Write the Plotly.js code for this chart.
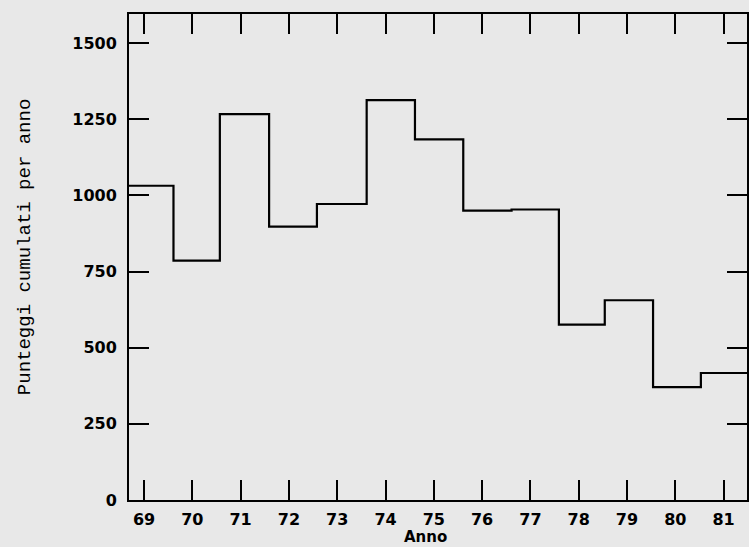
<!DOCTYPE html>
<html>
<head>
<meta charset="utf-8">
<script src="https://cdn.plot.ly/plotly-3.0.1.min.js"></script>
<style>html,body{margin:0;padding:0;background:#e8e8e8;}#chart{width:749px;height:547px;}</style>
</head>
<body>
<div id="chart"></div>
<script>
// Years (tick labels) and cumulative scores per year (step histogram)
const years = [69, 70, 71, 72, 73, 74, 75, 76, 77, 78, 79, 80, 81];
const yearLabels = ["69", "70", "71", "72", "73", "74", "75", "76", "77", "78", "79", "80", "81"];
// left edge of each yearly bin
const binStarts = [68.6, 69.61, 70.57, 71.59, 72.58, 73.61, 74.61, 75.61, 76.61, 77.59, 78.54, 79.54, 80.53];
const binEndLast = 81.6;
const scores = [1032, 786, 1267, 898, 972, 1313, 1184, 950, 954, 576, 656, 371, 417];
const yTicks = [0, 250, 500, 750, 1000, 1250, 1500];

const xs = binStarts.concat([binEndLast]);
const ys = scores.concat([scores[scores.length - 1]]);

const tickFont = {family: "DejaVu Sans", size: 16, weight: 700, color: "#000"};

const trace = {
  x: xs, y: ys, type: "scatter", mode: "lines",
  line: {shape: "hv", color: "#000", width: 2.2},
  hoverinfo: "skip", showlegend: false
};

const layout = {
  width: 749, height: 547,
  margin: {l: 129, r: 2, t: 14, b: 47},
  paper_bgcolor: "#e8e8e8", plot_bgcolor: "#e8e8e8",
  showlegend: false,
  xaxis: {
    range: [68.689, 81.485], tickmode: "array", tickvals: years, ticktext: yearLabels,
    ticks: "inside", ticklen: 20, tickwidth: 2, tickcolor: "#000",
    showline: true, linecolor: "#000", linewidth: 2, mirror: "allticks",
    showgrid: false, zeroline: false, tickfont: tickFont, ticklabelstandoff: 4
  },
  yaxis: {
    range: [0, 1596], tickmode: "array", tickvals: yTicks,
    ticks: "inside", ticklen: 20, tickwidth: 2, tickcolor: "#000",
    showline: true, linecolor: "#000", linewidth: 2, mirror: "allticks",
    showgrid: false, zeroline: false, tickfont: tickFont, ticklabelstandoff: 7
  },
  annotations: [
    {text: "Anno", xref: "paper", yref: "paper", x: (425 - 129) / 617.7, y: 0,
     yshift: -37, showarrow: false, xanchor: "center", yanchor: "middle",
     font: {family: "DejaVu Sans", size: 15, weight: 700, color: "#000"}},
    {text: "Punteggi cumulati per anno", xref: "paper", yref: "paper",
     x: 0, xshift: -104, y: (499.7 - 247) / 485.7, textangle: -90, showarrow: false,
     xanchor: "center", yanchor: "middle",
     font: {family: "Liberation Mono", size: 19, color: "#000"}}
  ]
};

Plotly.newPlot("chart", [trace], layout, {displayModeBar: false, staticPlot: true});
</script>
</body>
</html>
